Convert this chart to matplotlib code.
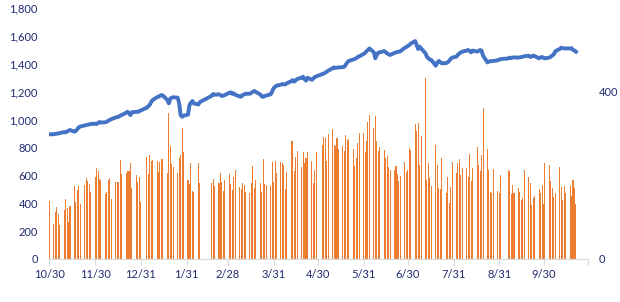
import matplotlib
matplotlib.use('Agg')
import matplotlib.pyplot as plt
import pandas as pd

# trading days 2020-10-30 .. 2021-10-22, with the market closures seen in the chart
holidays = ['2021-01-01', '2021-02-10', '2021-02-11', '2021-02-12', '2021-02-15',
            '2021-02-16', '2021-04-30', '2021-09-02', '2021-09-03']
days = pd.bdate_range('2020-10-30', '2021-10-22', freq='C', holidays=holidays)

# index level (left axis), one row per week
level = [894,
         895, 897, 899, 900, 903,   910, 908, 915, 920, 925,   913, 918, 932, 945, 950,
         958, 961, 963, 966, 968,   970, 968, 975, 982, 979,   980, 985, 992, 997, 1003,
         1015, 1018, 1020, 1028, 1032,   1049, 1056, 1045, 1032, 1052,   1056, 1054, 1061, 1065,
         1085, 1095, 1104, 1125, 1140,   1160, 1164, 1170, 1176, 1172,   1140, 1116, 1150, 1157, 1160,
         1157, 1116, 1032, 1020, 1028,   1035, 1104, 1120, 1133, 1116,   1108, 1125,   1170, 1183, 1178,
         1181, 1175, 1169, 1172, 1176,   1192, 1195, 1185, 1188, 1178,   1166, 1164, 1175, 1180, 1185,
         1185, 1192, 1200, 1205, 1198,   1180, 1166, 1163, 1169, 1172,   1181, 1200, 1224, 1235, 1243,
         1250, 1255, 1252, 1252, 1260,   1275, 1283, 1272, 1280, 1291,   1300, 1307, 1290, 1279, 1300,
         1285, 1295, 1305, 1310,   1326, 1330, 1336, 1343, 1350,   1368, 1374, 1370, 1372, 1374,
         1376, 1379, 1395, 1410, 1420,   1430, 1434, 1440, 1448, 1453,   1470, 1478, 1490, 1499, 1510,
         1482, 1439, 1465, 1480, 1482,   1491, 1483, 1475, 1468, 1463,   1478, 1482, 1485, 1487, 1490,
         1515, 1520, 1528, 1534, 1545,   1563, 1534, 1506, 1523, 1510,   1475, 1450, 1439, 1430, 1427,
         1386, 1410, 1420, 1412, 1403,   1405, 1410, 1420, 1435, 1444,   1451, 1465, 1475, 1482, 1487,
         1495, 1499, 1490, 1482, 1495,   1487, 1492, 1499, 1494, 1458,   1410, 1415, 1420, 1418, 1420,
         1425, 1430, 1434,   1438, 1444, 1440, 1445, 1446,   1444, 1446, 1448, 1451, 1454,
         1458, 1449, 1452, 1458, 1455,   1439, 1445, 1449, 1442, 1439,   1445, 1451, 1460, 1468, 1490,
         1506, 1515, 1512, 1510, 1510,   1510, 1512, 1499, 1495, 1487]

# volume (right axis)
volume = [139,
          84, 112, 124, 108, 81,   117, 143, 122, 88, 127,   174, 136, 165, 174, 131,
          177, 194, 186, 179, 160,   196, 217, 210, 191, 189,   155, 160, 189, 194, 143,
          184, 183, 185, 237, 203,   206, 210, 210, 229, 170,   201, 184, 196, 136,
          244, 203, 249, 234, 237,   234, 208, 232, 239, 239,   206, 349, 270, 227, 220,
          206, 241, 249, 313, 256,   189, 179, 229, 163, 160,   229, 182,   182, 191, 174,
          182, 206, 184, 163, 189,   203, 179, 165, 196, 213,   172, 167, 182, 177, 160,
          158, 182, 222, 170, 189,   182, 160, 239, 179, 177,   174, 232, 184, 234, 206,
          232, 229, 225, 167, 208,   282, 282, 210, 244, 258,   220, 256, 230, 241, 256,
          234, 182, 213, 256,   273, 292, 289, 234, 299,   311, 272, 270, 289, 263,
          270, 258, 296, 287, 284,   263, 222, 241, 277, 301,   301, 256, 282, 327, 344,
          313, 342, 282, 258, 268,   260, 241, 246, 220, 213,   213, 222, 203, 186, 198,
          232, 208, 213, 265, 260,   323, 306, 325, 225, 294,   433, 189, 229, 194, 174,
          272, 225, 170, 167, 241,   158, 196, 134, 172, 232,   206, 229, 239, 201, 217,
          217, 196, 251, 186, 217,   268, 225, 210, 249, 361,   263, 213, 160, 158, 215,
          163, 158, 201,   213, 210, 155, 177, 158,   170, 160, 141, 146, 213,
          196, 182, 129, 146, 151,   167, 158, 177, 131, 229,   225, 186, 170, 148, 157,
          220, 172, 141, 174, 158,   174, 151, 189, 170, 131]

tick_dates = ['2020-10-30', '2020-11-30', '2020-12-31', '2021-01-31', '2021-02-28',
              '2021-03-31', '2021-04-30', '2021-05-31', '2021-06-30', '2021-07-31',
              '2021-08-31', '2021-09-30', '2021-10-30']
tick_labels = ['10/30', '11/30', '12/31', '1/31', '2/28', '3/31', '4/30', '5/31',
               '6/30', '7/31', '8/31', '9/30', '']

assert len(days) == len(level) == len(volume)

plt.rcParams['font.family'] = ['Lato', 'DejaVu Sans']
text_color = '#1f2a6e'
grey = '#d9d9d9'

fig = plt.figure(figsize=(6.2, 3.02), dpi=100)
ax = fig.add_axes([0.079, 0.1424, 0.869, 0.8311])
ax2 = ax.twinx()

ax2.bar(days, volume, width=0.7, color='#ed7d31', linewidth=0)
ax.plot(days, level, color='#4472c4', linewidth=2.8, solid_joinstyle='round')

# line drawn above the bars
ax.set_zorder(ax2.get_zorder() + 1)
ax.patch.set_visible(False)

ax.set_ylim(0, 1800)
ax.set_yticks(range(0, 1801, 200))
ax.set_yticklabels([f'{v:,}' for v in range(0, 1801, 200)])
ax2.set_ylim(0, 600)
ax2.set_yticks([0, 400])

ax.set_xlim(pd.Timestamp('2020-10-29 18:00'), pd.Timestamp('2021-10-30'))
ax.set_xticks(pd.to_datetime(tick_dates))
ax.set_xticklabels(tick_labels)

for a in (ax, ax2):
    for side in ('top', 'left', 'right'):
        a.spines[side].set_visible(False)
    a.spines['bottom'].set_color(grey)
    a.tick_params(axis='y', length=0, labelsize=8, labelcolor=text_color)
ax.tick_params(axis='y', pad=8)
ax2.tick_params(axis='y', pad=8)
ax.tick_params(axis='x', length=4, color=grey, labelsize=8, labelcolor=text_color, pad=3)
ax2.tick_params(axis='x', length=0)

fig.savefig('out.png', dpi=100)
